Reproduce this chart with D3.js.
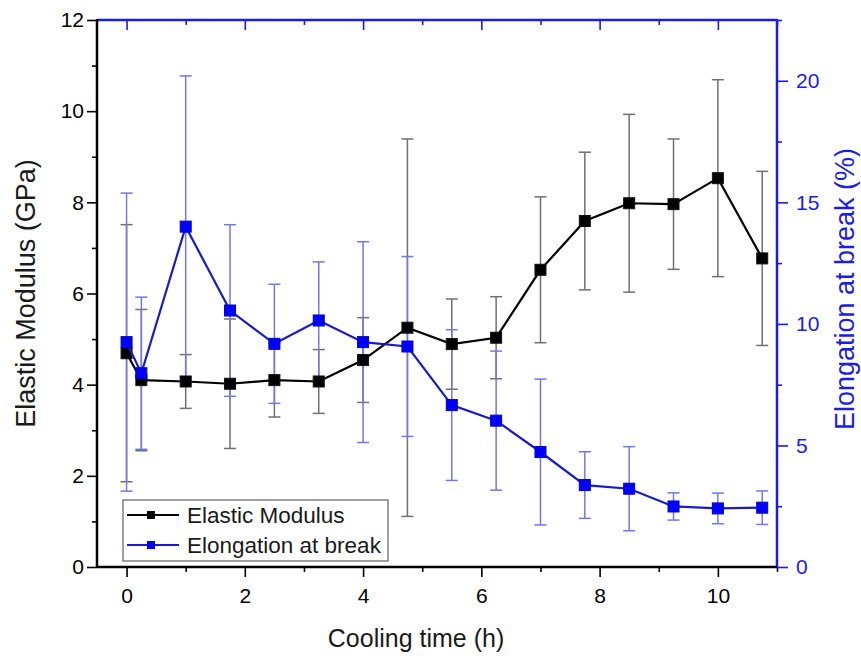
<!DOCTYPE html>
<html>
<head>
<meta charset="utf-8">
<script src="https://cdn.jsdelivr.net/npm/d3@7"></script>
<style>
  body { margin: 0; background: #fff; }
  svg { font-family: "Liberation Sans", Arial, sans-serif; }
</style>
</head>
<body>
<div id="chart"></div>
<script>
// values
var coolingTime = [0, 0.25, 1, 1.75, 2.5, 3.25, 4, 4.75, 5.5, 6.25, 7, 7.75, 8.5, 9.25, 10, 10.75];
var modulus = [4.69, 4.10, 4.07, 4.02, 4.10, 4.07, 4.54, 5.25, 4.89, 5.03, 6.52, 7.59, 7.98, 7.96, 8.53, 6.77];
var modulusErr = [2.82, 1.55, 0.59, 1.42, 0.81, 0.70, 0.93, 4.14, 0.99, 0.90, 1.60, 1.51, 1.95, 1.43, 2.16, 1.91];
var elongation = [9.25, 7.97, 14.0, 10.55, 9.18, 10.14, 9.25, 9.07, 6.66, 6.02, 4.73, 3.37, 3.22, 2.49, 2.41, 2.44];
var elongationErr = [6.13, 3.13, 6.2, 3.53, 2.45, 2.41, 4.13, 3.70, 3.10, 2.86, 3.0, 1.37, 1.73, 0.56, 0.63, 0.69];

var xTicks = [0, 2, 4, 6, 8, 10];
var xMinorTicks = [1, 3, 5, 7, 9, 11];
var leftTicks = [0, 2, 4, 6, 8, 10, 12];
var leftMinorTicks = [1, 3, 5, 7, 9, 11];
var rightTicks = [0, 5, 10, 15, 20];
var rightMinorTicks = [2.5, 7.5, 12.5, 17.5, 22.5];

var seriesNames = ["Elastic Modulus", "Elongation at break"];

var width = 861,
    height = 656;
var plot = { left: 97, right: 777, top: 20, bottom: 567 };
var blue = "#1c1ce8";

var svg = d3.select("#chart")
  .append("svg")
    .attr("width", width)
    .attr("height", height);

var x = d3.scaleLinear().domain([-0.5, 11]).range([plot.left, plot.right]);
var yLeft = d3.scaleLinear().domain([0, 12]).range([plot.bottom, plot.top]);
var yRight = d3.scaleLinear().domain([0, 22.5]).range([plot.bottom, plot.top]);

var modData = coolingTime.map(function(t, i) { return { t: t, v: modulus[i], e: modulusErr[i] }; });
var elongData = coolingTime.map(function(t, i) { return { t: t, v: elongation[i], e: elongationErr[i] }; });

drawAxes();
drawErrorBars(modData, yLeft, "#707070");
drawErrorBars(elongData, yRight, "#7676e6");
drawSeries(modData, yLeft, "#000", "#000", "#111");
drawSeries(elongData, yRight, "#1a1acc", "#0000ff", "#0000c8");
drawLegend();
drawTitles();

function styleAxis(g, color) {
  g.select(".domain").remove();
  g.selectAll(".tick line").attr("stroke", color).attr("stroke-width", 1.6);
  g.selectAll(".tick text").attr("fill", color).attr("font-size", 21).attr("font-family", "Liberation Sans, Arial, sans-serif");
}

function drawAxes() {
  var noLabel = function() { return ""; };

  // bottom
  var gb = svg.append("g").attr("transform", "translate(0," + plot.bottom + ")");
  gb.call(d3.axisBottom(x).tickValues(xTicks).tickSize(10).tickPadding(11).tickFormat(d3.format("d")));
  styleAxis(gb, "#000");
  var gbm = svg.append("g").attr("transform", "translate(0," + plot.bottom + ")");
  gbm.call(d3.axisBottom(x).tickValues(xMinorTicks).tickSize(5).tickFormat(noLabel));
  styleAxis(gbm, "#000");

  // top, ticks pointing in
  var gt = svg.append("g").attr("transform", "translate(0," + plot.top + ")");
  gt.call(d3.axisTop(x).tickValues(xTicks).tickSize(-10).tickFormat(noLabel));
  styleAxis(gt, blue);
  var gtm = svg.append("g").attr("transform", "translate(0," + plot.top + ")");
  gtm.call(d3.axisTop(x).tickValues(xMinorTicks).tickSize(-5).tickFormat(noLabel));
  styleAxis(gtm, blue);

  // left
  var gl = svg.append("g").attr("transform", "translate(" + plot.left + ",0)");
  gl.call(d3.axisLeft(yLeft).tickValues(leftTicks).tickSize(10).tickPadding(3).tickFormat(d3.format("d")));
  styleAxis(gl, "#000");
  var glm = svg.append("g").attr("transform", "translate(" + plot.left + ",0)");
  glm.call(d3.axisLeft(yLeft).tickValues(leftMinorTicks).tickSize(5).tickFormat(noLabel));
  styleAxis(glm, "#000");

  // right
  var gr = svg.append("g").attr("transform", "translate(" + plot.right + ",0)");
  gr.call(d3.axisRight(yRight).tickValues(rightTicks).tickSize(11).tickPadding(8).tickFormat(d3.format("d")));
  styleAxis(gr, blue);
  var grm = svg.append("g").attr("transform", "translate(" + plot.right + ",0)");
  grm.call(d3.axisRight(yRight).tickValues(rightMinorTicks).tickSize(5).tickFormat(noLabel));
  styleAxis(grm, blue);

  // frame lines
  svg.append("line")
    .attr("x1", plot.left).attr("x2", plot.right)
    .attr("y1", plot.top).attr("y2", plot.top)
    .attr("stroke", blue).attr("stroke-width", 2.5);
  svg.append("line")
    .attr("x1", plot.right).attr("x2", plot.right)
    .attr("y1", plot.top - 1).attr("y2", plot.bottom + 1)
    .attr("stroke", blue).attr("stroke-width", 2.5);
  svg.append("line")
    .attr("x1", plot.left).attr("x2", plot.right)
    .attr("y1", plot.bottom).attr("y2", plot.bottom)
    .attr("stroke", "#000").attr("stroke-width", 2.5);
  svg.append("line")
    .attr("x1", plot.left).attr("x2", plot.left)
    .attr("y1", plot.top - 1).attr("y2", plot.bottom + 1)
    .attr("stroke", "#000").attr("stroke-width", 2.5);
}

function drawErrorBars(data, y, color) {
  var capHalf = 6;
  var g = svg.append("g").attr("stroke", color).attr("stroke-width", 1.5);

  g.selectAll("line.bar")
    .data(data)
    .enter()
      .append("line")
      .attr("class", "bar")
      .attr("x1", function(d) { return x(d.t); })
      .attr("x2", function(d) { return x(d.t); })
      .attr("y1", function(d) { return y(d.v + d.e); })
      .attr("y2", function(d) { return y(d.v - d.e); });

  g.selectAll("line.captop")
    .data(data)
    .enter()
      .append("line")
      .attr("class", "captop")
      .attr("x1", function(d) { return x(d.t) - capHalf; })
      .attr("x2", function(d) { return x(d.t) + capHalf; })
      .attr("y1", function(d) { return y(d.v + d.e); })
      .attr("y2", function(d) { return y(d.v + d.e); });

  g.selectAll("line.capbottom")
    .data(data)
    .enter()
      .append("line")
      .attr("class", "capbottom")
      .attr("x1", function(d) { return x(d.t) - capHalf; })
      .attr("x2", function(d) { return x(d.t) + capHalf; })
      .attr("y1", function(d) { return y(d.v - d.e); })
      .attr("y2", function(d) { return y(d.v - d.e); });
}

function drawSeries(data, y, lineColor, fill, stroke) {
  var size = 11;
  var line = d3.line()
    .x(function(d) { return x(d.t); })
    .y(function(d) { return y(d.v); });

  svg.append("path")
    .datum(data)
    .attr("d", line)
    .attr("fill", "none")
    .attr("stroke", lineColor)
    .attr("stroke-width", 2.2);

  svg.append("g")
    .selectAll("rect")
    .data(data)
    .enter()
      .append("rect")
      .attr("x", function(d) { return x(d.t) - size / 2; })
      .attr("y", function(d) { return y(d.v) - size / 2; })
      .attr("width", size)
      .attr("height", size)
      .attr("fill", fill)
      .attr("stroke", stroke)
      .attr("stroke-width", 1);
}

function drawLegend() {
  var box = { x: 123, y: 500, w: 265, h: 61 };
  var rowY = [515, 545];
  var colors = [["#000", "#000"], ["#1a1acc", "#0000ff"]];

  var legend = svg.append("g").attr("class", "legend");
  legend.append("rect")
    .attr("x", box.x).attr("y", box.y)
    .attr("width", box.w).attr("height", box.h)
    .attr("fill", "#fff")
    .attr("stroke", "#606060")
    .attr("stroke-width", 1.2);

  var rows = legend.selectAll("g.row")
    .data(seriesNames)
    .enter()
      .append("g")
      .attr("class", "row")
      .attr("transform", function(d, i) { return "translate(0," + rowY[i] + ")"; });

  rows.append("line")
    .attr("x1", 127).attr("x2", 179)
    .attr("stroke", function(d, i) { return colors[i][0]; })
    .attr("stroke-width", 2);
  rows.append("rect")
    .attr("x", 147).attr("y", -4)
    .attr("width", 8).attr("height", 8)
    .attr("fill", function(d, i) { return colors[i][1]; });
  rows.append("text")
    .attr("x", 187)
    .attr("y", 8)
    .attr("font-size", 22.5)
    .attr("fill", "#1a1a1a")
    .text(function(d) { return d; });
}

function drawTitles() {
  svg.append("text")
    .attr("x", 416)
    .attr("y", 647)
    .attr("text-anchor", "middle")
    .attr("font-size", 25)
    .attr("fill", "#1a1a1a")
    .text("Cooling time (h)");

  svg.append("text")
    .attr("transform", "translate(35," + ((plot.top + plot.bottom) / 2) + ") rotate(-90)")
    .attr("text-anchor", "middle")
    .attr("font-size", 27)
    .attr("fill", "#1a1a1a")
    .text("Elastic Modulus (GPa)");

  svg.append("text")
    .attr("transform", "translate(854,289) rotate(-90)")
    .attr("text-anchor", "middle")
    .attr("font-size", 27)
    .attr("fill", blue)
    .text("Elongation at break (%)");
}
</script>
</body>
</html>
